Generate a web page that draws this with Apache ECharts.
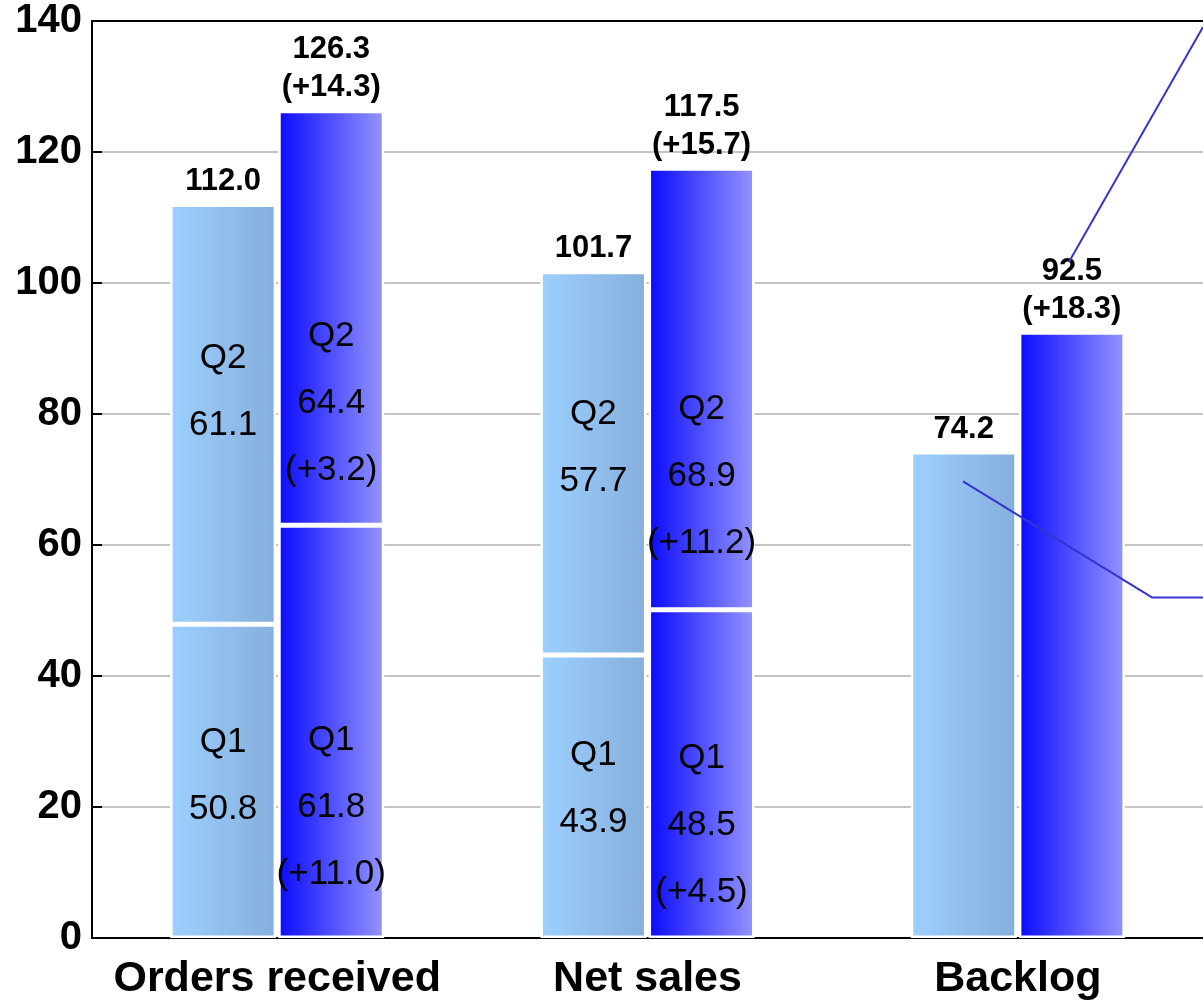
<!DOCTYPE html>
<html>
<head>
<meta charset="utf-8">
<title>Orders / Net sales / Backlog</title>
<script src="https://cdn.jsdelivr.net/npm/echarts@6/dist/echarts.min.js"></script>
<style>
  html, body { margin: 0; padding: 0; background: #fff; }
  #chart { width: 1203px; height: 1001px; }
</style>
</head>
<body>
<div id="chart"></div>
<script>
  var categories = ['Orders received', 'Net sales', 'Backlog']

  // previous period (light bars): Q1 split point as drawn, and total
  var prevQ1 = [47.9, 43.2, 0]
  var prevTotal = [112.0, 101.7, 74.2]
  // current period (dark bars)
  var curQ1 = [63.0, 50.1, 0]
  var curTotal = [126.3, 117.5, 92.5]

  var prevQ1Labels = ['Q1\n50.8', 'Q1\n43.9', '']
  var prevQ2Labels = ['Q2\n61.1', 'Q2\n57.7', '']
  var curQ1Labels = ['Q1\n61.8\n(+11.0)', 'Q1\n48.5\n(+4.5)', '']
  var curQ2Labels = ['Q2\n64.4\n(+3.2)', 'Q2\n68.9\n(+11.2)', '']
  var prevTotalLabels = ['112.0', '101.7', '74.2']
  var curTotalLabels = ['126.3\n(+14.3)', '117.5\n(+15.7)', '92.5\n(+18.3)']

  var yTicks = [0, 20, 40, 60, 80, 100, 120, 140]

  // leader lines of cut-off callouts (x in category units, y in axis units)
  var calloutA = [[2.638, 103.2], [3.0, 139.1]]
  var calloutB = [[2.352, 69.7], [2.862, 52.0], [3.0, 52.0]]

  // label shifts inside the segments (px)
  var prevQ1Shift = [-5, -8, 0]
  var prevQ2Shift = [-22, -16, 0]
  var curQ1Shift = [76, 51, 0]
  var curQ2Shift = [85, 87, 0]

  var font = 'Liberation Sans, Arial, sans-serif'

  var lightFill = new echarts.graphic.LinearGradient(0, 0, 1, 0, [
    { offset: 0, color: '#9dd0ff' },
    { offset: 1, color: '#85aedb' }
  ])
  var darkFill = new echarts.graphic.LinearGradient(0, 0, 1, 0, [
    { offset: 0, color: '#0a0aff' },
    { offset: 1, color: '#9595ff' }
  ])

  function segment(values, labels, shifts) {
    return values.map(function(v, i) {
      return {
        value: v,
        label: { formatter: labels[i], offset: [0, shifts[i]] },
        itemStyle: v === 0 ? { borderWidth: 0 } : {}
      }
    })
  }

  var innerLabel = {
    show: true,
    position: 'inside',
    color: '#000',
    fontFamily: font,
    fontSize: 35,
    lineHeight: 67
  }
  var topLabel = {
    show: true,
    position: 'top',
    distance: 4,
    color: '#000',
    fontFamily: font,
    fontWeight: 'bold',
    fontSize: 31,
    lineHeight: 38
  }

  var chart = echarts.init(document.getElementById('chart'))

  chart.setOption({
    animation: false,
    grid: { left: 92, right: 0, top: 21, bottom: 61 },
    xAxis: [
      {
        type: 'category',
        data: categories,
        axisLine: { lineStyle: { color: '#000', width: 2 } },
        axisTick: { inside: true, length: 12, lineStyle: { color: '#000', width: 2 } },
        axisLabel: {
          interval: 0,
          color: '#000',
          fontFamily: font,
          fontWeight: 'bold',
          fontSize: 43,
          margin: 20
        }
      },
      {
        type: 'value',
        position: 'top',
        min: 0,
        max: 3,
        axisLine: { show: true, onZero: false, lineStyle: { color: '#000', width: 2 } },
        axisTick: { show: false },
        axisLabel: { show: false },
        splitLine: { show: false }
      }
    ],
    yAxis: {
      type: 'value',
      min: 0,
      max: 140,
      interval: 20,
      axisLine: { show: true, lineStyle: { color: '#000', width: 2 } },
      axisTick: { show: true, inside: true, length: 10, lineStyle: { color: '#000', width: 2 } },
      axisLabel: {
        color: '#000',
        fontFamily: font,
        fontWeight: 'bold',
        fontSize: 40,
        margin: 10,
        formatter: function(v) {
          return yTicks.indexOf(v) >= 0 ? String(v) : ''
        }
      },
      splitLine: { lineStyle: { color: '#c4c4c4', width: 2 } }
    },
    series: [
      {
        name: 'prev Q1',
        type: 'bar',
        stack: 'prev',
        barWidth: 106,
        barGap: '2%',
        itemStyle: { color: lightFill, borderColor: '#fff', borderWidth: 2.5 },
        label: innerLabel,
        data: segment(prevQ1, prevQ1Labels, prevQ1Shift)
      },
      {
        name: 'prev Q2',
        type: 'bar',
        stack: 'prev',
        itemStyle: { color: lightFill, borderColor: '#fff', borderWidth: 2.5 },
        label: innerLabel,
        data: segment(prevTotal.map(function(t, i) { return +(t - prevQ1[i]).toFixed(1) }), prevQ2Labels, prevQ2Shift)
      },
      {
        name: 'prev total',
        type: 'bar',
        stack: 'prev',
        itemStyle: { color: 'rgba(0,0,0,0)', borderWidth: 0 },
        label: Object.assign({}, topLabel, {
          formatter: function(p) { return prevTotalLabels[p.dataIndex] }
        }),
        data: [0, 0, 0]
      },
      {
        name: 'cur Q1',
        type: 'bar',
        stack: 'cur',
        barWidth: 106,
        itemStyle: { color: darkFill, borderColor: '#fff', borderWidth: 2.5 },
        label: innerLabel,
        data: segment(curQ1, curQ1Labels, curQ1Shift)
      },
      {
        name: 'cur Q2',
        type: 'bar',
        stack: 'cur',
        itemStyle: { color: darkFill, borderColor: '#fff', borderWidth: 2.5 },
        label: innerLabel,
        data: segment(curTotal.map(function(t, i) { return +(t - curQ1[i]).toFixed(1) }), curQ2Labels, curQ2Shift)
      },
      {
        name: 'cur total',
        type: 'bar',
        stack: 'cur',
        itemStyle: { color: 'rgba(0,0,0,0)', borderWidth: 0 },
        label: Object.assign({}, topLabel, {
          formatter: function(p) { return curTotalLabels[p.dataIndex] }
        }),
        data: [0, 0, 0]
      },
      {
        name: 'callout A',
        type: 'line',
        xAxisIndex: 1,
        symbol: 'none',
        silent: true,
        lineStyle: { color: '#3434d2', width: 2 },
        data: calloutA
      },
      {
        name: 'callout B',
        type: 'line',
        xAxisIndex: 1,
        symbol: 'none',
        silent: true,
        lineStyle: { color: '#3434d2', width: 2 },
        data: calloutB
      }
    ]
  })
</script>
</body>
</html>
